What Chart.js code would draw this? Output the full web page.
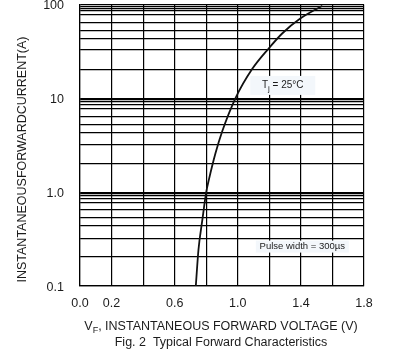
<!DOCTYPE html>
<html><head><meta charset="utf-8">
<script src="https://cdn.jsdelivr.net/npm/chart.js@4/dist/chart.umd.min.js"></script>
<style>html,body{margin:0;padding:0;background:#fff}</style>
</head><body>
<canvas id="c" width="397" height="358"></canvas>
<script>
// Forward characteristic curve (V, A)
const voltage = [0.734, 0.751, 0.775, 0.800, 0.817, 0.859, 0.901, 0.985, 1.091, 1.197, 1.283, 1.398, 1.536];
const current = [0.1, 0.245, 0.5, 1.0, 1.36, 2.61, 4.43, 10, 20.5, 34.2, 49.4, 71.3, 97];

// X axis grid / tick labels
const xGrid = [0, 0.2, 0.4, 0.6, 0.8, 1.0, 1.2, 1.4, 1.6, 1.8];
const xTickLabels = ['0.0', '0.2', '', '0.6', '', '1.0', '', '1.4', '', '1.8'];

// Y axis grid lines (log) and labels
const yGrid = [0.1, 0.204, 0.318, 0.435, 0.53, 0.645, 0.78, 0.86, 0.92, 0.96,
               1, 2.04, 3.18, 4.35, 5.3, 6.45, 7.8, 8.6, 9.2, 9.6,
               10, 20.4, 33, 43.5, 53, 64.5, 78, 86.5, 91.5, 95.7, 100];
const yTickValues = [0.1, 1, 10, 100];
const yTickLabels = ['0.1', '1.0', '10', '100'];

const yTitle = 'INSTANTANEOUSFORWARDCURRENT(A)';
const xTitleMain = 'V';
const xTitleSub = 'F';
const xTitleRest = ', INSTANTANEOUS FORWARD VOLTAGE (V)';
const caption = 'Fig. 2  Typical Forward Characteristics';
const noteTj = {pos: [1.285, 13.9], main: 'T', sub: 'j', rest: ' = 25°C'};
const notePulse = {pos: [1.409, 0.263], text: 'Pulse width = 300µs'};

const FONT = "'Liberation Sans', Arial, sans-serif";
const TXT = '#1c1c1c';

const textPlugin = {
  id: 'texts',
  afterDatasetsDraw(chart) {
    const ctx = chart.ctx;
    const xs = chart.scales.x, ys = chart.scales.y;
    ctx.save();
    function box(cx, cy, w, h) {
      ctx.fillStyle = '#f3f7fb';
      ctx.fillRect(cx - w / 2, cy - h / 2, w, h);
    }
    const tx = xs.getPixelForValue(noteTj.pos[0]), ty = ys.getPixelForValue(noteTj.pos[1]);
    box(tx, ty + 0.5, 65, 19);
    ctx.fillStyle = TXT;
    ctx.textBaseline = 'middle';
    ctx.textAlign = 'left';
    ctx.font = '10px ' + FONT;
    const wT = ctx.measureText(noteTj.main).width;
    const wr = ctx.measureText(noteTj.rest).width;
    ctx.font = '8px ' + FONT;
    const wj = ctx.measureText(noteTj.sub).width;
    let sx = tx - (wT + wj + wr) / 2;
    ctx.font = '10px ' + FONT;
    ctx.fillText(noteTj.main, sx, ty);
    ctx.font = '8px ' + FONT;
    ctx.fillText(noteTj.sub, sx + wT, ty + 3.5);
    ctx.font = '10px ' + FONT;
    ctx.fillText(noteTj.rest, sx + wT + wj, ty);

    const px = xs.getPixelForValue(notePulse.pos[0]), py = ys.getPixelForValue(notePulse.pos[1]);
    box(px, py, 93, 12);
    ctx.fillStyle = TXT;
    ctx.textAlign = 'center';
    ctx.font = '9.5px ' + FONT;
    ctx.fillText(notePulse.text, px, py);
    ctx.restore();
  },
  afterDraw(chart) {
    const ctx = chart.ctx;
    ctx.save();
    ctx.fillStyle = TXT;
    ctx.textBaseline = 'middle';
    ctx.save();
    ctx.translate(23, 159.5);
    ctx.rotate(-Math.PI / 2);
    ctx.textAlign = 'center';
    ctx.font = '12.5px ' + FONT;
    ctx.fillText(yTitle, 0, 0);
    ctx.restore();
    ctx.textAlign = 'left';
    ctx.font = '12.5px ' + FONT;
    const w1 = ctx.measureText(xTitleMain).width;
    const w3 = ctx.measureText(xTitleRest).width;
    ctx.font = '9px ' + FONT;
    const w2 = ctx.measureText(xTitleSub).width;
    const cx = 221, cy = 327;
    let x0 = cx - (w1 + w2 + w3) / 2;
    ctx.font = '12.5px ' + FONT;
    ctx.fillText(xTitleMain, x0, cy);
    ctx.font = '9px ' + FONT;
    ctx.fillText(xTitleSub, x0 + w1, cy + 4);
    ctx.font = '12.5px ' + FONT;
    ctx.fillText(xTitleRest, x0 + w1 + w2, cy);
    ctx.textAlign = 'center';
    ctx.fillText(caption, 221, 343);
    ctx.restore();
  }
};

function zeroPad(s) { s.paddingTop = 0; s.paddingBottom = 0; s.paddingLeft = 0; s.paddingRight = 0; }

new Chart(document.getElementById('c'), {
  type: 'scatter',
  data: {
    datasets: [{
      data: voltage.map((v, i) => ({x: v, y: current[i]})),
      showLine: true,
      borderColor: '#111',
      borderWidth: 1.8,
      pointRadius: 0,
      cubicInterpolationMode: 'monotone',
      fill: false
    }]
  },
  options: {
    responsive: false,
    animation: false,
    devicePixelRatio: 1,
    layout: {padding: {top: 4.5, right: 33, left: 0, bottom: 0}},
    plugins: {legend: {display: false}, tooltip: {enabled: false}},
    scales: {
      x: {
        type: 'linear', min: 0, max: 1.8,
        afterBuildTicks: s => { s.ticks = xGrid.map(v => ({value: v})); },
        afterFit: s => { s.height = 72; zeroPad(s); },
        ticks: {
          autoSkip: false, maxRotation: 0, padding: 10,
          color: TXT, font: {family: FONT, size: 12.5},
          callback: (v, i) => xTickLabels[i]
        },
        grid: {color: '#000', lineWidth: 1.2, drawTicks: false},
        border: {display: true, color: '#000', width: 1.2}
      },
      y: {
        type: 'logarithmic', min: 0.1, max: 100,
        afterBuildTicks: s => { s.ticks = yGrid.map(v => ({value: v})); },
        afterFit: s => { s.width = 80; zeroPad(s); },
        ticks: {
          autoSkip: false, padding: 16, labelOffset: 1.5,
          color: TXT, font: {family: FONT, size: 12.5},
          callback: v => {
            const k = yTickValues.findIndex(t => Math.abs(t - v) < 1e-9);
            return k >= 0 ? yTickLabels[k] : '';
          }
        },
        grid: {color: '#000', lineWidth: 1.2, drawTicks: false},
        border: {display: true, color: '#000', width: 1.2}
      }
    }
  },
  plugins: [textPlugin]
});
</script>
</body></html>
